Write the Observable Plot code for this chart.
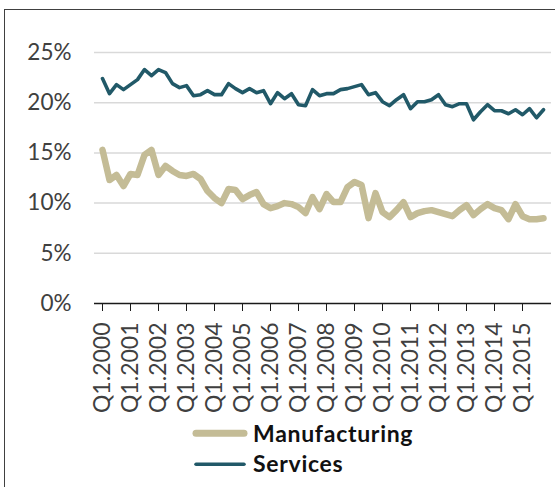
<!DOCTYPE html>
<html>
<head>
<meta charset="utf-8">
<script src="https://cdn.jsdelivr.net/npm/d3@7"></script>
<script src="https://cdn.jsdelivr.net/npm/@observablehq/plot@0.6"></script>
<style>
  html, body { margin: 0; padding: 0; background: #fff; overflow: hidden; }
  #wrap { position: relative; width: 555px; height: 487px; }
  #frame { position: absolute; left: 4px; top: 9px; width: 700px; height: 700px; border: 1.5px solid #404040; box-sizing: border-box; }
  #chart { position: absolute; left: 0; top: 0; }
  #legend { position: absolute; left: 0; top: 415px; }
</style>
</head>
<body>
<div id="wrap">
  <div id="frame"></div>
  <div id="chart"></div>
  <div id="legend"></div>
</div>
<script>
const years = [2000, 2001, 2002, 2003, 2004, 2005, 2006, 2007, 2008, 2009, 2010, 2011, 2012, 2013, 2014, 2015];
const quarterNames = ["Q1", "Q2", "Q3", "Q4"];
const quarterLabels = years.flatMap(y => quarterNames.map(q => `${q}.${y}`));
const tickLabels = years.map(y => `Q1.${y}`);
const yTicks = [0, 0.05, 0.10, 0.15, 0.20, 0.25];
const seriesNames = ["Manufacturing", "Services"];
const seriesColors = ["#C4BC96", "#215968"];

// shares in %
const manufacturing = [
  15.3, 12.3, 12.8, 11.7, 12.9, 12.8, 14.8, 15.3, 12.8, 13.7,
  13.2, 12.8, 12.7, 12.9, 12.4, 11.2, 10.5, 10.0, 11.4, 11.3,
  10.4, 10.8, 11.1, 9.9, 9.5, 9.7, 10.0, 9.9, 9.6, 9.0,
  10.6, 9.4, 10.9, 10.1, 10.1, 11.6, 12.1, 11.8, 8.5, 11.0,
  9.1, 8.6, 9.3, 10.1, 8.6, 9.0, 9.2, 9.3, 9.1, 8.9,
  8.7, 9.3, 9.8, 8.8, 9.4, 9.9, 9.5, 9.3, 8.4, 9.9,
  8.7, 8.4, 8.4, 8.5
];
const services = [
  22.4, 20.9, 21.8, 21.3, 21.8, 22.3, 23.3, 22.7, 23.3, 23.0,
  21.9, 21.5, 21.7, 20.7, 20.8, 21.2, 20.8, 20.8, 21.9, 21.4,
  21.0, 21.4, 21.0, 21.2, 19.9, 21.0, 20.4, 20.9, 19.8, 19.7,
  21.3, 20.7, 20.9, 20.9, 21.3, 21.4, 21.6, 21.8, 20.8, 21.0,
  20.1, 19.7, 20.3, 20.8, 19.4, 20.1, 20.1, 20.3, 20.8, 19.8,
  19.6, 19.9, 19.9, 18.3, 19.1, 19.8, 19.2, 19.2, 18.9, 19.3,
  18.8, 19.4, 18.5, 19.3
];

const mfgRows = manufacturing.map((v, i) => ({q: quarterLabels[i], v: v / 100}));
const svcRows = services.map((v, i) => ({q: quarterLabels[i], v: v / 100}));

const chart = Plot.plot({
  width: 555,
  height: 415,
  marginLeft: 94,
  marginRight: 4,
  marginTop: 52,
  marginBottom: 112,
  style: {fontFamily: "Lato, sans-serif", background: "transparent", overflow: "visible"},
  x: {type: "point", domain: quarterLabels, padding: 0},
  y: {domain: [0, 0.25]},
  marks: [
    Plot.gridY(yTicks.slice(1), {stroke: "#d9d9d9", strokeOpacity: 1, strokeWidth: 1.5}),
    Plot.axisY(yTicks, {tickSize: 0, tickPadding: 23, tickFormat: d => `${Math.round(d * 100)}%`, fontSize: 22.5, fill: "#404040", label: null}),
    Plot.ruleY([0], {stroke: "#1a1a1a", strokeWidth: 1.3}),
    Plot.axisX(tickLabels, {tickSize: 8, tickPadding: 11, tickRotate: -90, fontSize: 23, fill: "#404040", stroke: "#1a1a1a", label: null}),
    Plot.line(mfgRows, {x: "q", y: "v", stroke: seriesColors[0], strokeWidth: 6.5, strokeLinejoin: "round", strokeLinecap: "round"}),
    Plot.line(svcRows, {x: "q", y: "v", stroke: seriesColors[1], strokeWidth: 3.6, strokeLinejoin: "round", strokeLinecap: "round"})
  ]
});
document.getElementById("chart").appendChild(chart);

// legend below the plot
const lg = d3.select("#legend").append("svg").attr("width", 555).attr("height", 72);
const legendItems = [
  {name: seriesNames[0], color: seriesColors[0], w: 7, ly: 18.3, ty: 26.7},
  {name: seriesNames[1], color: seriesColors[1], w: 3.5, ly: 49.3, ty: 56.7}
];
legendItems.forEach(it => {
  lg.append("line").attr("x1", 196).attr("x2", 244).attr("y1", it.ly).attr("y2", it.ly)
    .attr("stroke", it.color).attr("stroke-width", it.w).attr("stroke-linecap", "round");
  lg.append("text").attr("x", 253).attr("y", it.ty).text(it.name)
    .attr("font-family", "Lato, sans-serif").attr("font-weight", "bold").attr("font-size", 23)
    .attr("letter-spacing", 0.7).attr("fill", "#111");
});
</script>
</body>
</html>
